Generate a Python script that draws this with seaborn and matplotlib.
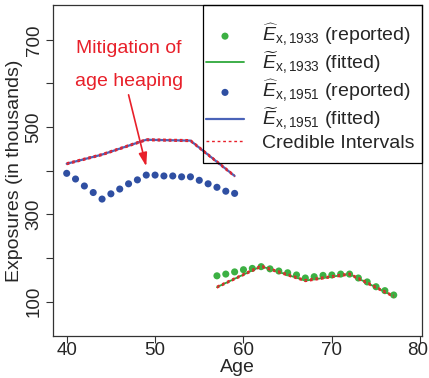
import numpy as np
import pandas as pd
import matplotlib
matplotlib.use("Agg")
import matplotlib.pyplot as plt
import matplotlib.transforms as mtransforms
from matplotlib.patches import Rectangle
import seaborn as sns

# Reported exposures (thousands) by age
ages_1951 = list(range(40, 60))
rep_1951 = [394, 381, 365, 350, 335, 347, 358, 370, 379, 390,
            390, 388, 388, 386, 386, 378, 370, 362, 353, 348]
ages_1933 = list(range(57, 78))
rep_1933 = [159, 163, 168, 173, 176, 180, 175, 170, 166, 161,
            154, 157, 160, 161, 163, 163, 154, 145, 134, 125, 115]

# Fitted exposures at knot ages
knots_1951 = [40, 44, 49, 54, 59]
fit_1951 = [416, 437, 471, 469, 388]
lo_1951 = [414, 435, 469, 467, 386]
hi_1951 = [418, 439, 473, 471, 390]
knots_1933 = [57, 62, 67, 72, 77]
fit_1933 = [133, 181, 148, 163, 112]
lo_1933 = [131, 179, 146, 161, 110]
hi_1933 = [135, 183, 150, 165, 114]

x_ticks = [40, 50, 60, 70, 80]
y_ticks = [100, 200, 300, 400, 500, 600, 700]
y_tick_labels = ["100", "", "300", "", "500", "", "700"]

sns.set_style("ticks")
plt.rcParams["font.family"] = ["Liberation Sans", "DejaVu Sans"]
plt.rcParams["mathtext.fontset"] = "custom"
plt.rcParams["mathtext.rm"] = "Liberation Sans"
plt.rcParams["mathtext.it"] = "Liberation Sans:italic"
plt.rcParams["mathtext.bf"] = "Liberation Sans:bold"

FS = 14
TICK_FS = 13.5
GREEN_PT = "#3cb043"
GREEN_LN = "#2ea83a"
BLUE_PT = "#2f4fa2"
BLUE_LN = "#4a63b8"
RED = "#e8202a"

W, H = 429, 378
fig = plt.figure(figsize=(W / 100, H / 100), dpi=100)
AX_L, AX_R, AX_T, AX_B = 53, 422, 5, 336
ax = fig.add_axes([AX_L / W, 1 - AX_B / H, (AX_R - AX_L) / W, (AX_B - AX_T) / H])


def ax_x(px):
    return (px - AX_L) / (AX_R - AX_L)


def ax_y(py):
    return (AX_B - py) / (AX_B - AX_T)


df33 = pd.DataFrame({"age": ages_1933, "exp": rep_1933})
df51 = pd.DataFrame({"age": ages_1951, "exp": rep_1951})
f33 = pd.DataFrame({"age": knots_1933, "fit": fit_1933, "lo": lo_1933, "hi": hi_1933})
f51 = pd.DataFrame({"age": knots_1951, "fit": fit_1951, "lo": lo_1951, "hi": hi_1951})

sns.scatterplot(data=df33, x="age", y="exp", ax=ax, color=GREEN_PT, s=26,
                edgecolor="none", label=r"$\widehat{E}_{\mathrm{x,1933}}$ (reported)", zorder=3)
sns.lineplot(data=f33, x="age", y="fit", ax=ax, color=GREEN_LN, lw=1.3,
             label=r"$\widetilde{E}_{\mathrm{x,1933}}$ (fitted)", zorder=2)
sns.scatterplot(data=df51, x="age", y="exp", ax=ax, color=BLUE_PT, s=26,
                edgecolor="none", label=r"$\widehat{E}_{\mathrm{x,1951}}$ (reported)", zorder=3)
sns.lineplot(data=f51, x="age", y="fit", ax=ax, color=BLUE_LN, lw=1.6,
             label=r"$\widetilde{E}_{\mathrm{x,1951}}$ (fitted)", zorder=2)
for i, f in enumerate([f33, f51]):
    for j, col in enumerate(["lo", "hi"]):
        sns.lineplot(data=f, x="age", y=col, ax=ax, color=RED, lw=1.0,
                     linestyle=(0, (2, 2)),
                     label="Credible Intervals" if (i == 0 and j == 0) else None,
                     zorder=4)

ax.set_xlim(38.45, 80.2)
ax.set_ylim(21, 780)
ax.set_xticks(x_ticks)
ax.set_xticklabels([str(t) for t in x_ticks], fontsize=TICK_FS)
ax.set_yticks(y_ticks)
ax.set_yticklabels(y_tick_labels, fontsize=TICK_FS, rotation=90, va="center")
ax.tick_params(axis="both", direction="out", length=5, width=0.8, color="#333333")
ax.tick_params(axis="x", pad=-1)
ax.tick_params(axis="y", pad=2.5)
# nudge the last x tick label so it stays inside the figure
last = ax.get_xticklabels()[-1]
last.set_transform(last.get_transform() +
                   mtransforms.ScaledTranslation(-3 / 100, 0, fig.dpi_scale_trans))

ax.set_xlabel("Age", fontsize=FS, va="center")
ax.xaxis.set_label_coords(0.5, ax_y(367))
ax.set_ylabel("Exposures (in thousands)", fontsize=FS, va="center")
ax.yaxis.set_label_coords(ax_x(15), 0.5)
for s in ax.spines.values():
    s.set_visible(True)
    s.set_color("#333333")
    s.set_linewidth(0.9)

ax.text(47.0, 681, "Mitigation of", color=RED, fontsize=FS, ha="center", va="center")
ax.text(47.0, 604, "age heaping", color=RED, fontsize=FS, ha="center", va="center")
ax.annotate("", xy=(49.0, 410), xytext=(47.0, 574),
            arrowprops=dict(arrowstyle="-|>,head_length=0.8,head_width=0.25",
                            color=RED, lw=1.2, shrinkA=0, shrinkB=0))

# legend entries without frame, boxed by a separate transparent rectangle
leg = ax.legend(loc="center", bbox_to_anchor=(ax_x(310), ax_y(86.5)),
                fontsize=FS, frameon=False, handlelength=2.0, handletextpad=0.9,
                labelspacing=0.08, borderpad=0.0, markerscale=1.0)
leg.set_zorder(6)
box = Rectangle((ax_x(203), ax_y(163)), ax_x(AX_R) - ax_x(203), ax_y(AX_T) - ax_y(163),
                transform=ax.transAxes, facecolor="none", edgecolor="black",
                lw=0.9, zorder=5, clip_on=False)
ax.add_patch(box)

fig.savefig("out.png", dpi=100)
